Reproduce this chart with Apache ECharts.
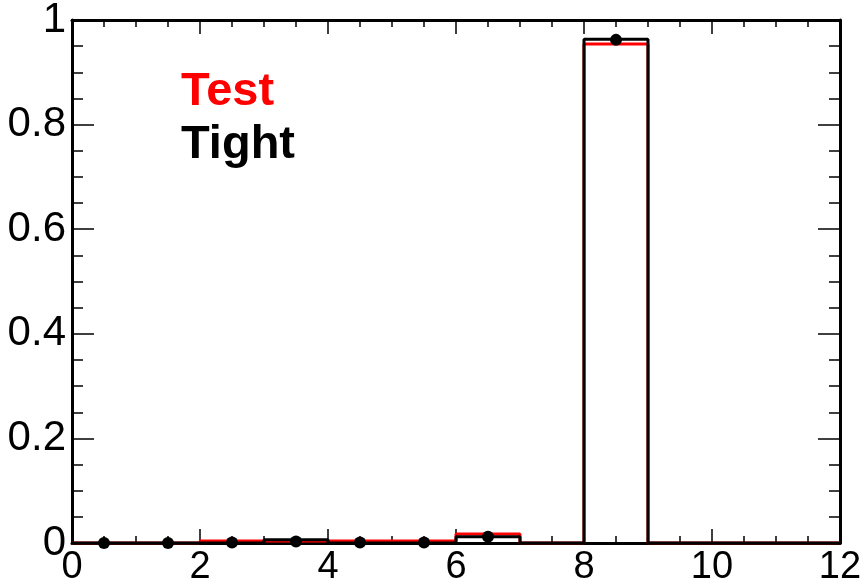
<!DOCTYPE html>
<html>
<head>
<meta charset="utf-8">
<script src="https://cdn.jsdelivr.net/npm/echarts@6/dist/echarts.min.js"></script>
<style>
  html, body { margin: 0; padding: 0; background: #fff; }
  #chart { width: 866px; height: 584px; }
</style>
</head>
<body>
<div id="chart"></div>
<script>
// Bin lower edges (unit-width bins from 0 to 12)
const binEdges = [0, 1, 2, 3, 4, 5, 6, 7, 8, 9, 10, 11, 12];
// Fraction per bin
const testValues  = [0, 0, 0.004, 0.004, 0.004, 0.004, 0.017, 0, 0.954, 0, 0, 0];
const tightValues = [0, 0, 0, 0.006, 0, 0, 0.012, 0, 0.963, 0, 0, 0];
// Marker points at bin centres (null = no marker)
const tightPoints = [0, 0, 0.001, 0.003, 0.001, 0.001, 0.012, null, 0.962, null, null, null];
const xTicks = [0, 2, 4, 6, 8, 10, 12];
const yTicks = [0, 0.2, 0.4, 0.6, 0.8, 1];
const legendLabels = ['Test', 'Tight'];

// Step outline: one point per lower edge, plus the closing upper edge
function stepData(vals) {
  const d = vals.map((v, i) => [binEdges[i], v]);
  d.push([binEdges[binEdges.length - 1], vals[vals.length - 1]]);
  return d;
}
function pointData(vals) {
  const d = [];
  vals.forEach((v, i) => {
    if (v !== null) d.push([(binEdges[i] + binEdges[i + 1]) / 2, v]);
  });
  return d;
}

const font = "'Liberation Sans', Arial, sans-serif";
const axisCommon = {
  axisLine: { show: true, onZero: false, lineStyle: { color: '#000', width: 3 } },
  splitLine: { show: false },
};
const xTickStyle = {
  axisTick: { show: true, inside: true, length: 14, lineStyle: { color: '#000', width: 1.5 } },
  minorTick: { show: true, splitNumber: 4, length: 7, lineStyle: { color: '#000', width: 1.5 } }
};
const yTickStyle = {
  axisTick: { show: true, inside: true, length: 22, lineStyle: { color: '#000', width: 1.5 } },
  minorTick: { show: true, splitNumber: 4, length: 11, lineStyle: { color: '#000', width: 1.5 } }
};

const chart = echarts.init(document.getElementById('chart'), null, { renderer: 'canvas' });
chart.setOption({
  animation: false,
  backgroundColor: '#fff',
  grid: { left: 72, right: 26, top: 20, bottom: 41, containLabel: false, outerBoundsMode: 'none' },
  xAxis: [
    Object.assign({}, axisCommon, xTickStyle, {
      type: 'value', min: 0, max: 12, interval: 2, position: 'bottom',
      axisLabel: {
        color: '#000', fontFamily: font, fontSize: 38, margin: 6,
        formatter: v => xTicks.includes(v) ? String(v) : ''
      }
    }),
    Object.assign({}, axisCommon, xTickStyle, {
      type: 'value', min: 0, max: 12, interval: 2, position: 'top',
      axisLabel: { show: false }
    })
  ],
  yAxis: [
    Object.assign({}, axisCommon, yTickStyle, {
      type: 'value', min: 0, max: 1, interval: 0.2, position: 'left',
      axisLabel: {
        color: '#000', fontFamily: font, fontSize: 42, margin: 6,
        formatter: v => {
          const t = yTicks.find(y => Math.abs(y - v) < 1e-9);
          return t === undefined ? '' : String(Math.round(t * 10) / 10);
        }
      }
    }),
    Object.assign({}, axisCommon, yTickStyle, {
      type: 'value', min: 0, max: 1, interval: 0.2, position: 'right',
      axisLabel: { show: false }
    })
  ],
  series: [
    {
      name: legendLabels[0], type: 'line', step: 'end', xAxisIndex: 0, yAxisIndex: 0,
      data: stepData(testValues), symbol: 'none',
      lineStyle: { color: '#ff0000', width: 3 }, z: 3
    },
    {
      name: legendLabels[1], type: 'line', step: 'end', xAxisIndex: 0, yAxisIndex: 0,
      data: stepData(tightValues), symbol: 'none',
      lineStyle: { color: '#000', width: 3 }, z: 4
    },
    {
      name: legendLabels[1] + ' points', type: 'scatter', xAxisIndex: 0, yAxisIndex: 0,
      data: pointData(tightPoints), symbol: 'circle', symbolSize: 12, clip: false,
      itemStyle: { color: '#000', opacity: 1 }, z: 5
    }
  ],
  graphic: [
    {
      type: 'text', left: 181, top: 69, z: 10,
      style: { text: legendLabels[0], fill: '#ff0000', font: "bold 47px 'Liberation Sans', Arial, sans-serif" }
    },
    {
      type: 'text', left: 181, top: 122, z: 10,
      style: { text: legendLabels[1], fill: '#000', font: "bold 47px 'Liberation Sans', Arial, sans-serif" }
    }
  ]
});
</script>
</body>
</html>
